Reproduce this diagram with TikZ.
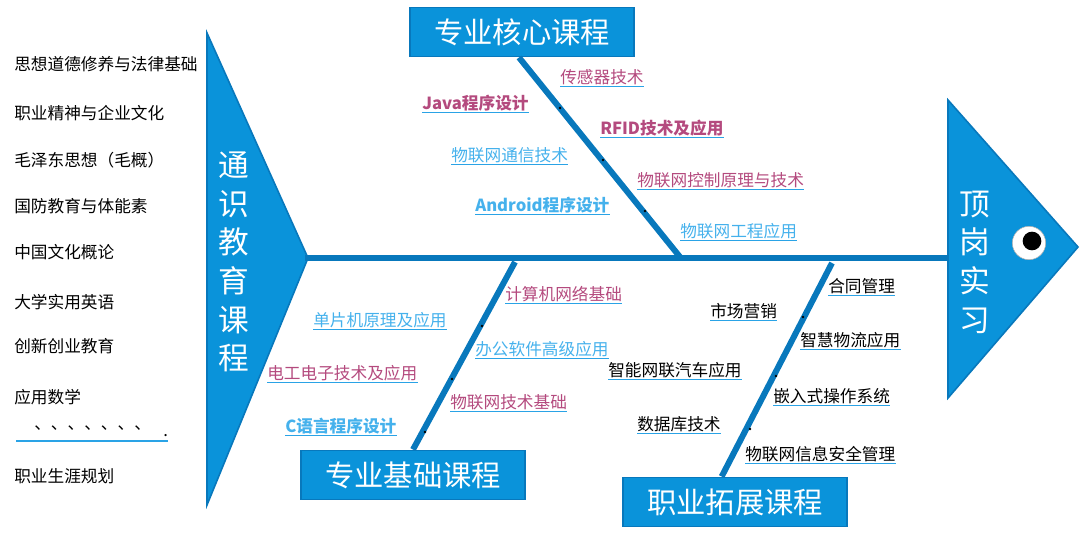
\documentclass[tikz,border=0pt]{standalone}
\usepackage{fontspec}
\setmainfont{Noto Sans CJK SC}
\begin{document}
\begin{tikzpicture}[x=0.75pt,y=-0.75pt,
  every node/.style={font=\fontsize{12.5}{14}\selectfont},
  fb/.style={fill=mblue,draw=dblue,line width=1.2pt},
  bone/.style={draw=dblue,line width=4.5pt},
  lab/.style={anchor=west,inner xsep=0pt,inner ysep=1pt,text=#1,
    append after command={(\tikzlastnode.south west) edge[draw=ulc,line width=1pt] (\tikzlastnode.south east)}},
  lab/.default=black,
  title/.style={fb,minimum width=168pt,minimum height=37pt,text=white,font=\fontsize{22}{24}\selectfont,inner sep=0pt},
  left/.style={anchor=west,inner sep=0pt,font=\fontsize{12.5}{14}\selectfont},
  dot/.style={circle,fill=black,inner sep=0pt,minimum size=2.2pt}]
\definecolor{mblue}{HTML}{0A93DA}
\definecolor{dblue}{HTML}{0878BC}
\definecolor{ulc}{HTML}{2AA3E6}
\definecolor{pk}{HTML}{B44A7E}
\definecolor{lb}{HTML}{45B1EC}
\useasboundingbox (0,0) rectangle (1080,540);
% tail
\path[fb] (207,33) -- (308,258) -- (207,505) -- cycle;
\node[text=white,font=\fontsize{23}{29}\selectfont,align=center,inner sep=0pt] (tong) at (234,262) {通\\识\\教\\育\\课\\程};
% spine
\coordinate (sp0) at (305,258);
\coordinate (sp1) at (950,258);
\draw[bone] (sp0) -- (sp1);
% head
\path[fb] (948,100) -- (1078,247) -- (948,398) -- cycle;
\node[text=white,font=\fontsize{23}{29}\selectfont,align=center,inner sep=0pt] (ding) at (975,262) {顶\\岗\\实\\习};
\node[circle,fill=white,draw=gray!60,minimum size=25pt,inner sep=0pt] (eye) at (1029,243) {};
\node[circle,fill=black,minimum size=14pt,inner sep=0pt] (pupil) at (1032,241) {};
% titles
\node[title] (core) at (522,32) {专业核心课程};
\node[title] (base) at (413,475) {专业基础课程};
\node[title] (ext) at (735,502) {职业拓展课程};
% bones
\coordinate (c1) at (680,257);
\coordinate (b1) at (515,262);
\coordinate (e1) at (832,263);
\draw[bone] (core.south) ++(-3,0) coordinate (c0) -- (c1);
\draw[bone] (b1) -- (base.north) ++(5,0);
\draw[bone] (e1) -- ([xshift=-10pt]ext.north);
% left list
\node[left] (l1) at (14,64) {思想道德修养与法律基础};
\node[left] (l2) at (14,113) {职业精神与企业文化};
\node[left] (l3) at (14,160) {毛泽东思想（毛概）};
\node[left] (l4) at (14,206) {国防教育与体能素};
\node[left] (l5) at (14,252) {中国文化概论};
\node[left] (l6) at (14,302) {大学实用英语};
\node[left] (l7) at (14,346) {创新创业教育};
\node[left] (l8) at (14,397) {应用数学};
\node[left] (l9) at (34,428) {、、、、、、、};
\node[left] (l9b) at (163,436) {.};
\draw[ulc,line width=1pt] (16,441) -- (168,441);
\node[left] (l10) at (14,476) {职业生涯规划};
% core labels
\node[lab=pk] (k1) at (560,77) {传感器技术};
\node[lab=pk,font=\fontsize{12.5}{14}\selectfont\bfseries] (k2) at (422,103) {Java程序设计\hspace{9pt}};
\node[lab=pk,font=\fontsize{12.5}{14}\selectfont\bfseries] (k3) at (600,128) {RFID技术及应用};
\node[lab=lb] (k4) at (451,155) {物联网通信技术\hspace{6pt}};
\node[lab=pk] (k5) at (637,180) {物联网控制原理与技术};
\node[lab=lb,font=\fontsize{12.5}{14}\selectfont\bfseries] (k6) at (475,205) {Android程序设计\hspace{6pt}};
\node[lab=lb] (k7) at (680,231) {物联网工程应用};
% base labels
\node[lab=pk] (j1) at (505,294) {计算机网络基础};
\node[lab=lb] (j2) at (313,320) {单片机原理及应用\hspace{6pt}};
\node[lab=lb] (j3) at (475,349) {办公软件高级应用};
\node[lab=pk] (j4) at (267,373) {电工电子技术及应用\hspace{6pt}};
\node[lab=pk] (j5) at (450,402) {物联网技术基础};
\node[lab=lb,font=\fontsize{12.5}{14}\selectfont\bfseries] (j6) at (285,426) {C语言程序设计\hspace{6pt}};
% ext labels
\node[lab] (x1) at (828,286) {合同管理};
\node[lab] (x2) at (710,311) {市场营销\hspace{10pt}};
\node[lab] (x3) at (800,340) {智慧物流应用};
\node[lab] (x4) at (608,370) {智能网联汽车应用\hspace{6pt}};
\node[lab] (x5) at (773,396) {嵌入式操作系统};
\node[lab] (x6) at (637,424) {数据库技术\hspace{8pt}};
\node[lab] (x7) at (745,454) {物联网信息安全管理};
% dots
\node[dot] (d1) at (560,108) {};
\node[dot] (d2) at (603,160) {};
\node[dot] (d3) at (645,211) {};
\node[dot] (d4) at (482,326) {};
\node[dot] (d5) at (452,379) {};
\node[dot] (d6) at (425,432) {};
\node[dot] (d7) at (803,317) {};
\node[dot] (d8) at (776,376) {};
\node[dot] (d9) at (750,429) {};
\end{tikzpicture}
\end{document}
